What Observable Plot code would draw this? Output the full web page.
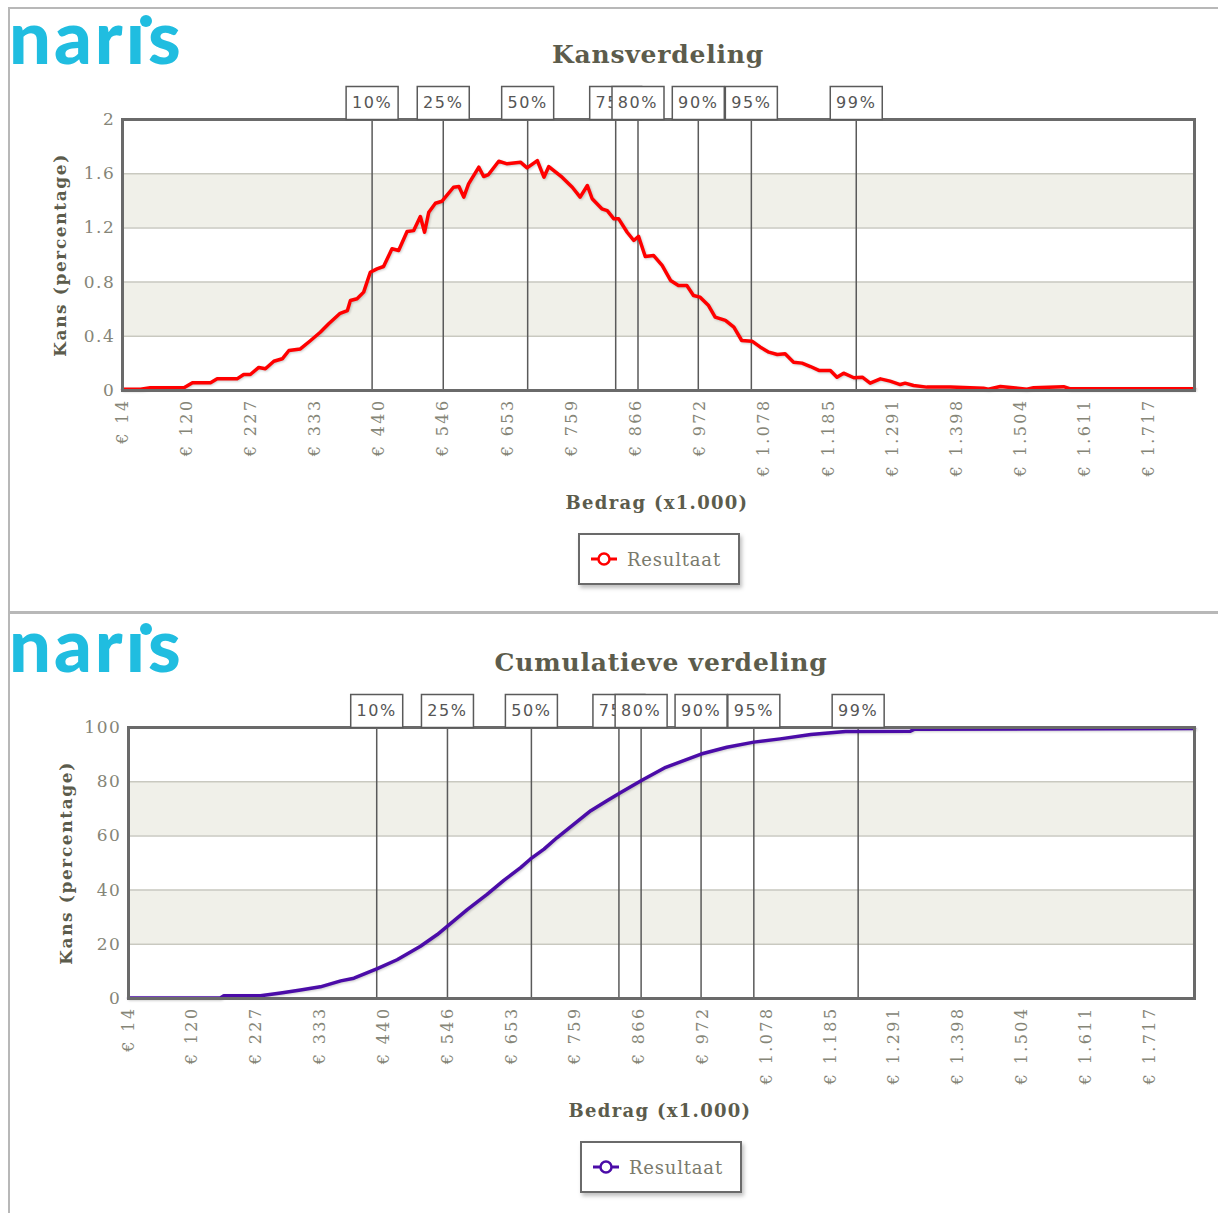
<!DOCTYPE html>
<html>
<head>
<meta charset="utf-8">
<script src="https://cdn.jsdelivr.net/npm/d3@7"></script>
<script src="https://cdn.jsdelivr.net/npm/@observablehq/plot@0.6"></script>
<style>
  body { margin: 0; background: #fff; width: 1218px; height: 1213px; overflow: hidden; position: relative; font-family: "DejaVu Serif", serif; }
  .frameBorder { position: absolute; left: 8px; top: 7px; width: 1210px; height: 1206px; border-top: 2px solid #b8b8b8; border-left: 2px solid #b8b8b8; box-sizing: border-box; }
  .sep { position: absolute; left: 8px; top: 611px; width: 1210px; height: 3px; background: #b8b8b8; }
  .logo { position: absolute; font-family: Lato, "Open Sans", sans-serif; font-weight: 900; font-size: 74px; color: #20bde0; line-height: 1.2; letter-spacing: 3px; white-space: nowrap; }
  .logodot { position: absolute; width: 12px; height: 12px; border-radius: 50%; background: #20bde0; }
  .title { position: absolute; width: 500px; text-align: center; font-family: "DejaVu Serif", serif; font-weight: bold; font-size: 25px; letter-spacing: 0.8px; color: #5c5c4c; }
  .xlabel { position: absolute; width: 400px; text-align: center; font-family: "DejaVu Serif", serif; font-weight: bold; font-size: 18px; color: #5c5c4c; letter-spacing: 1.3px; }
  .legend { position: absolute; width: 158px; height: 48px; border: 2px solid #6a6a6a; background: #fff; box-shadow: 2px 3px 4px rgba(0,0,0,0.25); display: flex; align-items: center; }
  .legend span { font-family: "DejaVu Serif", serif; font-size: 18px; color: #7a7a6c; letter-spacing: 0.8px; margin-left: 8px; }
  .legend svg { margin-left: 11px; }
  .chart { position: absolute; left: 0; }
  .chart svg text { letter-spacing: 1.6px; }
  .chart svg [aria-label="x-axis tick label"] text { letter-spacing: 2.4px; }
  .chart svg [aria-label="line"] path { filter: drop-shadow(1px 1px 1px rgba(0,0,0,0.2)); }
</style>
</head>
<body>
<div class="frameBorder"></div>
<div class="sep"></div>
<div id="root"></div>
<script>
// ---------- data ----------
const xDomain = [14, 1792];
const xTickValues = [14, 120, 227, 333, 440, 546, 653, 759, 866, 972, 1078, 1185, 1291, 1398, 1504, 1611, 1717];

const percentileLabels = ["10%", "25%", "50%", "75%", "80%", "90%", "95%", "99%"];
const percentileValues = [428, 546, 686, 832, 869, 969, 1057, 1231];

// Kansverdeling (density, percentage per bin)
const densityAmounts = [14, 44, 60, 116, 130, 160, 171, 204, 215, 226, 240, 251, 265, 279, 290, 309, 326, 342, 356, 375, 387, 392, 403, 414, 425, 436, 447, 461, 472, 486, 497, 508, 515, 522, 533, 544, 563, 572, 580, 588, 605, 613, 621, 638, 652, 674, 685, 702, 713, 721, 743, 760, 773, 785, 793, 809, 818, 829, 837, 851, 862, 870, 881, 895, 909, 923, 936, 950, 961, 972, 986, 997, 1014, 1028, 1041, 1058, 1072, 1086, 1100, 1113, 1127, 1141, 1155, 1169, 1188, 1199, 1210, 1227, 1241, 1254, 1271, 1287, 1304, 1312, 1326, 1348, 1387, 1442, 1450, 1470, 1514, 1525, 1575, 1586, 1792];
const densityValues = [0.01, 0.01, 0.02, 0.02, 0.057, 0.057, 0.086, 0.086, 0.118, 0.118, 0.17, 0.16, 0.216, 0.234, 0.295, 0.307, 0.369, 0.43, 0.492, 0.57, 0.59, 0.664, 0.677, 0.726, 0.873, 0.898, 0.915, 1.046, 1.033, 1.173, 1.18, 1.284, 1.168, 1.316, 1.382, 1.397, 1.5, 1.505, 1.427, 1.525, 1.648, 1.579, 1.594, 1.692, 1.673, 1.685, 1.643, 1.697, 1.574, 1.653, 1.574, 1.5, 1.427, 1.513, 1.415, 1.341, 1.328, 1.267, 1.267, 1.168, 1.107, 1.137, 0.989, 0.996, 0.923, 0.812, 0.775, 0.775, 0.701, 0.689, 0.627, 0.541, 0.517, 0.467, 0.369, 0.364, 0.32, 0.283, 0.266, 0.271, 0.209, 0.202, 0.177, 0.148, 0.148, 0.098, 0.128, 0.094, 0.098, 0.054, 0.086, 0.069, 0.044, 0.054, 0.037, 0.025, 0.025, 0.017, 0.01, 0.03, 0.01, 0.02, 0.028, 0.012, 0.012];

// Cumulatieve verdeling (percentage)
const cumAmounts = [14, 167, 173, 234, 268, 301, 334, 368, 390, 429, 462, 501, 529, 546, 579, 612, 640, 668, 684, 707, 729, 757, 785, 812, 835, 871, 910, 969, 1012, 1057, 1101, 1152, 1210, 1318, 1325, 1792];
const cumValues = [0.2, 0.2, 1.0, 1.0, 2.0, 3.1, 4.3, 6.5, 7.5, 11.0, 14.3, 19.3, 23.6, 26.7, 32.8, 38.4, 43.6, 48.3, 51.4, 55.1, 59.4, 64.3, 69.3, 73.0, 76.0, 80.6, 85.3, 90.2, 92.7, 94.6, 95.8, 97.4, 98.5, 98.6, 99.4, 99.6];

const densityTicks = [0, 0.4, 0.8, 1.2, 1.6, 2];
const densityBands = [[0.4, 0.8], [1.2, 1.6]];
const cumTicks = [0, 20, 40, 60, 80, 100];
const cumBands = [[20, 40], [60, 80]];

const titles = ["Kansverdeling", "Cumulatieve verdeling"];
const yLabel = "Kans (percentage)";
const xLabel = "Bedrag (x1.000)";
const legendLabel = "Resultaat";

// ---------- helpers ----------
const nl = d3.formatLocale({decimal: ",", thousands: ".", grouping: [3], currency: ["€ ", ""]});
const fmtAmount = nl.format(",d");
const boxSymbol = {draw(ctx) { ctx.rect(-26, -16.5, 52, 33); }};
const percentiles = percentileLabels.map((label, i) => ({label, value: percentileValues[i]}));

function panel(cfg) {
  const {offset, amounts, values, yDomain, yTicks, bands, color, marginLeft, title, titleCenter, xlabelCenter, legendLeft} = cfg;
  const data = amounts.map((a, i) => ({amount: a, value: values[i]}));
  const root = document.getElementById("root");

  // logo
  const logo = document.createElement("div");
  logo.className = "logo";
  logo.style.left = "9px";
  logo.style.top = (offset - 8) + "px";
  logo.textContent = "nar\u0131s";
  root.appendChild(logo);
  const dot = document.createElement("div");
  dot.className = "logodot";
  dot.style.left = "140px";
  dot.style.top = (offset + 15) + "px";
  root.appendChild(dot);

  // title
  const t = document.createElement("div");
  t.className = "title";
  t.style.left = (titleCenter - 250) + "px";
  t.style.top = (offset + 40) + "px";
  t.textContent = title;
  root.appendChild(t);

  const chart = Plot.plot({
    width: 1218,
    height: 405,
    marginTop: 39,
    marginBottom: 95,
    marginLeft,
    marginRight: 24,
    x: {domain: xDomain},
    y: {domain: yDomain},
    style: {fontFamily: "DejaVu Serif", fontSize: "16px", color: "#858577", background: "transparent", overflow: "visible"},
    marks: [
      Plot.rect(bands, {y1: d => d[0], y2: d => d[1], fill: "#f0f0e9"}),
      Plot.gridY(yTicks, {stroke: "#c9c9c0", strokeOpacity: 1, strokeWidth: 1.5}),
      Plot.ruleX(percentiles, {x: "value", stroke: "#5a5a5a", strokeWidth: 1.5}),
      Plot.line(data, {x: "amount", y: "value", stroke: color, strokeWidth: 3.5, strokeLinejoin: "round"}),
      Plot.frame({stroke: "#6a6a6a", strokeWidth: 3}),
      Plot.axisY({ticks: yTicks, tickSize: 0, tickPadding: 7, tickFormat: d => String(d), fontSize: 17, label: null}),
      Plot.axisX({ticks: xTickValues, tickSize: 0, tickPadding: 8, tickRotate: -90, tickFormat: d => "€ " + fmtAmount(d), fontSize: 16, label: null}),
      Plot.text([yLabel], {frameAnchor: "left", textAnchor: "middle", rotate: -90, dx: -62, text: d => d, fontWeight: "bold", fontSize: 17, fill: "#5c5c4c"}),
      ...percentiles.flatMap(p => [
        Plot.dot([p], {x: "value", y: () => yDomain[1], symbol: boxSymbol, fill: "white", stroke: "#5a5a5a", strokeWidth: 1.5, dy: -16.5}),
        Plot.text([p], {x: "value", y: () => yDomain[1], text: "label", dy: -16.5, fontFamily: "DejaVu Sans", fontSize: 16, fill: "#555"})
      ])
    ]
  });
  const wrap = document.createElement("div");
  wrap.className = "chart";
  wrap.style.top = (offset + 80) + "px";
  wrap.appendChild(chart);
  root.appendChild(wrap);

  const xl = document.createElement("div");
  xl.className = "xlabel";
  xl.style.left = (xlabelCenter - 200) + "px";
  xl.style.top = (offset + 492) + "px";
  xl.textContent = xLabel;
  root.appendChild(xl);

  const lg = document.createElement("div");
  lg.className = "legend";
  lg.style.left = legendLeft + "px";
  lg.style.top = (offset + 533) + "px";
  lg.innerHTML = `<svg width="28" height="20"><line x1="0" y1="10" x2="26" y2="10" stroke="${color}" stroke-width="3"/><circle cx="13" cy="10" r="5.5" fill="#fff" stroke="${color}" stroke-width="2.5"/></svg><span>${legendLabel}</span>`;
  root.appendChild(lg);
}

panel({offset: 0, amounts: densityAmounts, values: densityValues, yDomain: [0, 2], yTicks: densityTicks, bands: densityBands,
  color: "#ff0000", marginLeft: 122, title: titles[0], titleCenter: 658, xlabelCenter: 657, legendLeft: 578});
panel({offset: 608, amounts: cumAmounts, values: cumValues, yDomain: [0, 100], yTicks: cumTicks, bands: cumBands,
  color: "#4b0ca8", marginLeft: 128, title: titles[1], titleCenter: 661, xlabelCenter: 660, legendLeft: 580});
</script>
</body>
</html>
